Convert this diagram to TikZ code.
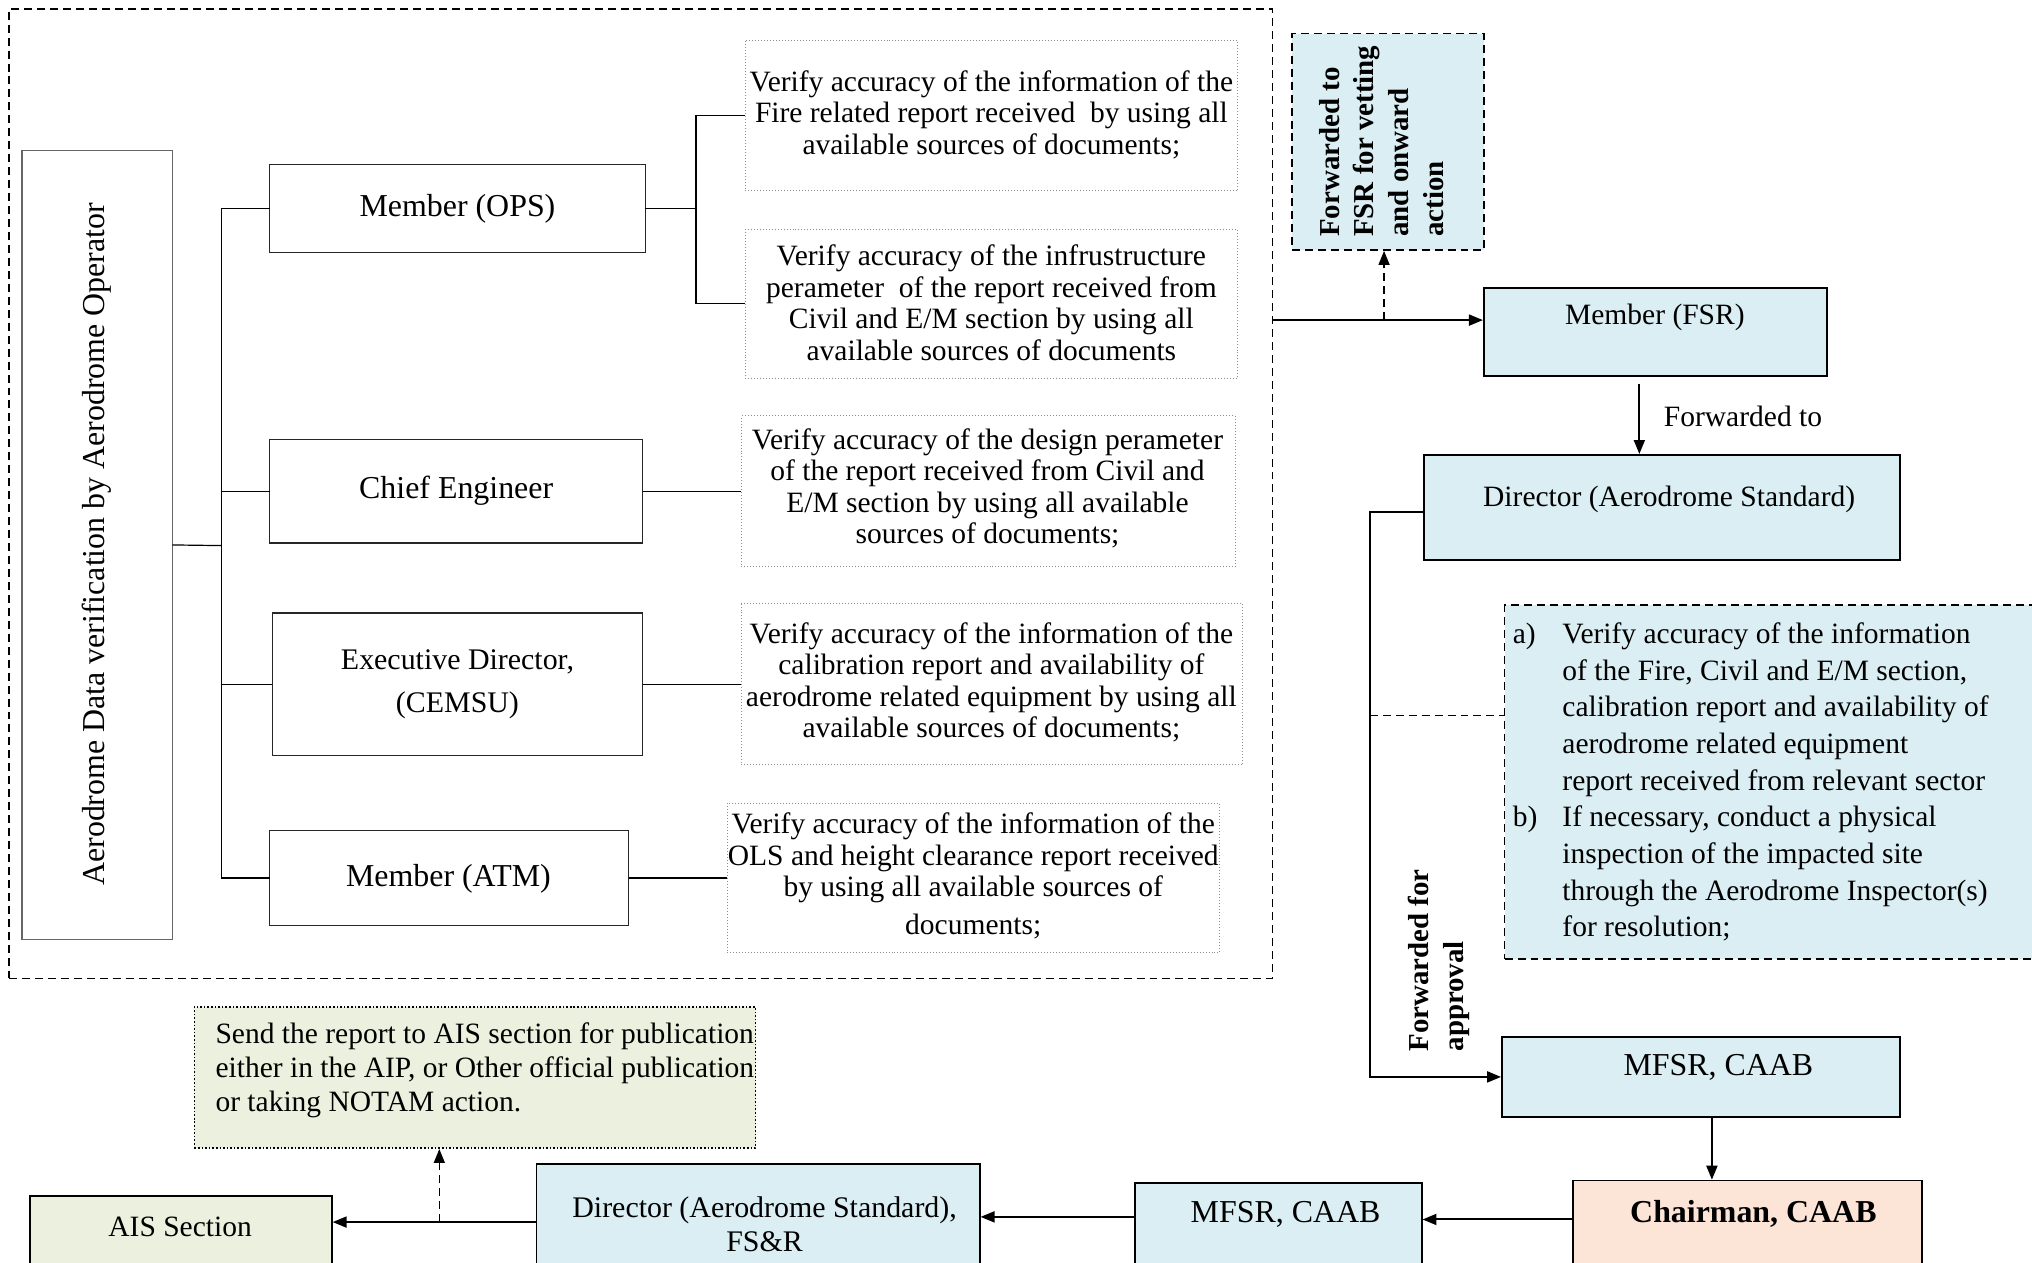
\documentclass[tikz,border=0pt]{standalone}
\usepackage{fontspec}
\setmainfont{Liberation Serif}
\usetikzlibrary{arrows.meta,fit}
\definecolor{lblue}{HTML}{DAEEF3}
\definecolor{lpeach}{HTML}{FCE4D6}
\definecolor{lgreen}{HTML}{EBF1DE}
\newcommand{\fsA}{\fontsize{14.8}{15.8}\selectfont}
\newcommand{\fsB}{\fontsize{16}{20}\selectfont}
\begin{document}
\begin{tikzpicture}[x=0.65pt,y=-0.65pt,
  plainbox/.style={draw=black!85, line width=0.6pt, inner sep=0pt, outer sep=0pt},
  verbox/.style={draw=black!45, densely dotted, line width=0.5pt, inner sep=0pt},
  vertext/.style={align=center, font=\fsA, inner sep=0pt},
  colbox/.style={draw=black, line width=0.9pt, inner sep=0pt},
  dashbox/.style={draw=black, dash pattern=on 4pt off 2.5pt, line width=0.8pt, inner sep=0pt},
  conn/.style={line width=0.6pt},
  arr/.style={line width=1pt, -{Triangle[length=7pt,width=5.5pt]}},
  dasharr/.style={arr, line width=0.8pt, dash pattern=on 4pt off 2.5pt},
]
\clip (0,0) rectangle (1568,974);
\fill[white] (0,0) rectangle (1568,974);

% outer dashed frame
\node[dashbox, fit={(7,7)(982,755)}] (outer) {};

% left tall box
\node[plainbox, draw=black!60, fit={(17,116)(133,725)}] (lbox) {};
\node[rotate=90, font=\fsB] (lboxt) at (75,420) {Aerodrome Data verification by Aerodrome Operator};

% officer boxes
\node[plainbox, fit={(208,127)(498,195)}] (ops) {};
\node[font=\fsB] (opst) at (353,161) {Member (OPS)};
\node[plainbox, fit={(208,339)(496,419)}] (chief) {};
\node[font=\fsB] (chieft) at (352,379) {Chief Engineer};
\node[plainbox, fit={(210,473)(496,583)}] (exec) {};
\node[font=\fontsize{15}{22}\selectfont, align=center] (exect) at (353,528) {Executive Director,\\(CEMSU)};
\node[plainbox, fit={(208,641)(485,714)}] (atm) {};
\node[font=\fsB] (atmt) at (346,678) {Member (ATM)};

% verify boxes
\node[verbox, fit={(575,31)(955,147)}] (v1) {};
\node[vertext] (v1t) at (765,88.5) {Verify accuracy of the information of the\\Fire related report received\ \ by using all\\available sources of documents;};
\node[verbox, fit={(575,177)(955,292)}] (v2) {};
\node[vertext] (v2t) at (765,233.5) {Verify accuracy of the infrustructure\\perameter\ \ of the report received from\\Civil and E/M section by using all\\available sources of documents};
\node[verbox, fit={(572,321)(953,437)}] (v3) {};
\node[vertext] (v3t) at (762,377) {Verify accuracy of the design perameter\\of the report received from Civil and\\E/M section by using all available\\sources of documents;};
\node[verbox, fit={(572,466)(959,590)}] (v4) {};
\node[vertext] (v4t) at (765,526.5) {Verify accuracy of the information of the\\calibration report and availability of\\aerodrome related equipment by using all\\available sources of documents;};
\node[verbox, fit={(561,620)(941,735)}] (v5) {};
\node[vertext] (v5t) at (751,676) {Verify accuracy of the information of the\\OLS and height clearance report received\\by using all available sources of\\[3pt]documents;};

% tree connectors
\coordinate (t0) at (171,421);
\draw[conn] (lbox.east) -- (t0);
\draw[conn] (ops.west) -| (t0);
\draw[conn] (atm.west) -| (t0);
\draw[conn] (chief.west) -- (chief.west -| t0);
\draw[conn] (exec.west) -- (exec.west -| t0);
\coordinate (t1) at (537,161);
\draw[conn] (ops.east) -- (t1);
\draw[conn] (v1.west) -| (t1);
\draw[conn] (v2.west) -| (t1);
\draw[conn] (chief.east) -- (v3.west);
\draw[conn] (exec.east) -- (v4.west);
\draw[conn] (atm.east) -- (v5.west);

% forwarded box
\node[dashbox, fill=lblue, fit={(997,26)(1145,193)}] (fwd) {};
\node[rotate=90, align=left, font=\bfseries\fontsize{14.5}{17.5}\selectfont] (fwdt) at (1066,109) {Forwarded to\\FSR for vetting\\and onward\\action};

% right column
\node[colbox, fill=lblue, fit={(1145,222)(1410,290)}] (fsr) {};
\node[font=\fsA] (fsrt) at (1277,245) {Member (FSR)};
\node[colbox, fill=lblue, fit={(1099,351)(1466,432)}] (dir) {};
\node[font=\fsA] (dirt) at (1288,385) {Director (Aerodrome Standard)};
\node[font=\fsA] (fwdto) at (1345,321) {Forwarded to};

\node[dashbox, fill=lblue, fit={(1161,467)(1620,740)}] (ab) {};
\node[anchor=west, inner sep=0pt, font=\fontsize{14.8}{18.4}\selectfont] (abt) at (1167,604)
  {\begin{tabular}{@{}l@{\hspace{12.6pt}}l@{}}
   a) & Verify accuracy of the information\\
      & of the Fire, Civil and E/M section,\\
      & calibration report and availability of\\
      & aerodrome related equipment\\
      & report received from relevant sector\\
   b) & If necessary, conduct a physical\\
      & inspection of the impacted site\\
      & through the Aerodrome Inspector(s)\\
      & for resolution;
   \end{tabular}};

\node[rotate=90, align=left, font=\bfseries\fontsize{14.5}{17.5}\selectfont] (fapp) at (1110,741) {Forwarded for\\approval};

\node[colbox, fill=lblue, fit={(1159,800)(1466,862)}] (mfsr1) {};
\node[font=\fsB] (mfsr1t) at (1326,824) {MFSR, CAAB};
\node[colbox, fill=lpeach, fit={(1214,911)(1483,1000)}] (chair) {};
\node[font=\bfseries\fsB] (chairt) at (1353,937) {Chairman, CAAB};
\node[colbox, fill=lblue, fit={(876,913)(1097,1000)}] (mfsr2) {};
\node[font=\fsB] (mfsr2t) at (992,937) {MFSR, CAAB};
\node[colbox, fill=lblue, fit={(414,898)(756,1000)}] (dirfs) {};
\node[font=\fontsize{15}{17}\selectfont, align=center] (dirfst) at (590,945) {Director (Aerodrome Standard),\\FS\&R};
\node[colbox, fill=lgreen, fit={(23,923)(256,1000)}] (ais) {};
\node[font=\fsA] (aist) at (139,947) {AIS Section};
\node[draw=black, densely dotted, line width=0.8pt, inner sep=0pt, fill=lgreen, fit={(150,777)(583,886)}] (send) {};
\node[anchor=west, align=left, inner sep=0pt, font=\fontsize{14.8}{17.2}\selectfont] (sendt) at (166,826)
  {Send the report to AIS section for publication\\either in the AIP, or Other official publication\\or taking NOTAM action.};

% arrows
\coordinate (j1) at (982,247);
\draw[arr] (j1) -- (j1 -| fsr.west);
\coordinate (j2) at (1068,247);
\draw[dasharr] (j2) -- (j2 |- fwd.south);
\coordinate (a1) at (1265,296);
\draw[arr] (a1) -- (a1 |- dir.north);
\coordinate (j3) at (1057,395);
\draw[arr] (j3 -| dir.west) -- (j3) |- (mfsr1.west);
\coordinate (j4) at (1057,552);
\draw[line width=0.8pt, dash pattern=on 4pt off 2.5pt] (j4) -- (j4 -| ab.west);
\coordinate (a2) at (1321,862);
\draw[arr] (a2) -- (a2 |- chair.north);
\coordinate (a3) at (1214,941);
\draw[arr] (a3) -- (a3 -| mfsr2.east);
\coordinate (a4) at (876,939);
\draw[arr] (a4) -- (a4 -| dirfs.east);
\coordinate (a5) at (414,943);
\draw[arr] (a5) -- (a5 -| ais.east);
\coordinate (a6) at (339,943);
\draw[dasharr] (a6) -- (a6 |- send.south);
\end{tikzpicture}
\end{document}
